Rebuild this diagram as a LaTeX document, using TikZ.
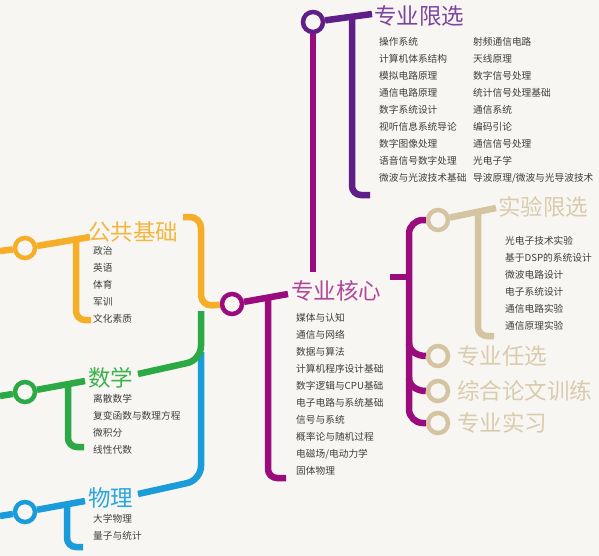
\documentclass[tikz,border=0pt]{standalone}
\usepackage{fontspec}
\setmainfont{Noto Sans CJK SC}
\usepackage{xcolor}
\definecolor{bgpaper}{HTML}{F7F6F2}
\definecolor{pubor}{HTML}{F6AD27}
\definecolor{pubhead}{HTML}{F4B53E}
\definecolor{mathgr}{HTML}{2CA944}
\definecolor{mathhead}{HTML}{3DB24F}
\definecolor{phybl}{HTML}{1A9BDA}
\definecolor{phyhead}{HTML}{2AA5DD}
\definecolor{coremg}{HTML}{9A0C7E}
\definecolor{corehead}{HTML}{B0479A}
\definecolor{specpu}{HTML}{601E88}
\definecolor{spechead}{HTML}{7D45A0}
\definecolor{labtan}{HTML}{D5C4A1}
\definecolor{labhead}{HTML}{DACBAE}
\definecolor{itemgray}{HTML}{3E3E3E}
\tikzset{
  hub/.style={circle,draw=#1,line width=4.5pt,fill=bgpaper,minimum size=20pt,inner sep=0pt},
  track/.style={draw=#1,line width=6.5pt,rounded corners=9pt},
  hdtext/.style={text=#1,font=\fontsize{22.5}{24}\selectfont,inner sep=0pt,anchor=west},
  items/.style={text=itemgray,font=\fontsize{9.7}{17}\selectfont,align=left,inner sep=0pt,anchor=west},
}

\begin{document}
\begin{tikzpicture}[x=1pt,y=-1pt]
  \fill[bgpaper] (0,0) rectangle (599,556);
  \useasboundingbox (0,0) rectangle (599,556);

  % ---- basic courses on the left, feeding the trunk ----
  \node[hub=pubor] (pub) at (25,248) {};
  \node[hub=mathgr] (math) at (25,392) {};
  \node[hub=phybl] (phy) at (25,512) {};
  \node[hub=coremg] (core) at (232,304) {};
  \node[hub=specpu] (spec) at (313,22) {};
  \node[hub=labtan] (lab) at (438,220) {};
  \node[hub=labtan] (opt) at (438,356) {};
  \node[hub=labtan] (thes) at (438,391) {};
  \node[hub=labtan] (prac) at (438,423) {};

  \node[hdtext=pubhead] (pubhd) at (88,232) {公共基础};
  \node[hdtext=mathhead] (mathhd) at (88,378) {数学};
  \node[hdtext=phyhead] (phyhd) at (88,498) {物理};
  \node[hdtext=corehead] (corehd) at (291,291) {专业核心};
  \node[hdtext=spechead] (spechd) at (374,16) {专业限选};
  \node[hdtext=labhead] (labhd) at (498,207) {实验限选};
  \node[hdtext=labhead] (opthd) at (457,356) {专业任选};
  \node[hdtext=labhead] (thesshd) at (457,391) {综合论文训练};
  \node[hdtext=labhead] (practhd) at (457,423) {专业实习};

  \node[items] (publist) at (93,285) {政治\\英语\\体育\\军训\\文化素质};
  \node[items] (mathlist) at (93,424.5) {离散数学\\复变函数与数理方程\\微积分\\线性代数};
  \node[items] (phylist) at (93,527.5) {大学物理\\量子与统计};
  \node[items] (corelist) at (296,394.5) {媒体与认知\\通信与网络\\数据与算法\\计算机程序设计基础\\数字逻辑与CPU基础\\电子电路与系统基础\\信号与系统\\概率论与随机过程\\电磁场/电动力学\\固体物理};
  \node[items] (speclistA) at (379,110) {操作系统\\计算机体系结构\\模拟电路原理\\通信电路原理\\数字系统设计\\视听信息系统导论\\数字图像处理\\语音信号数字处理\\微波与光波技术基础};
  \node[items] (speclistB) at (473,110) {射频通信电路\\天线原理\\数字信号处理\\统计信号处理基础\\通信系统\\编码引论\\通信信号处理\\光电子学\\导波原理/微波与光导波技术};
  \node[items] (lablist) at (505,283.5) {光电子技术实验\\基于DSP的系统设计\\微波电路设计\\电子系统设计\\通信电路实验\\通信原理实验};

  % free ends of the tracks
  \coordinate (pubL) at (0,251);
  \coordinate (mathL) at (0,396);
  \coordinate (phyL) at (0,516);
  \coordinate (brk) at (390,277);
  \coordinate (specdn) at (313,272);

  % ---- T bars under each header ----
  \draw[track=pubor] (pubL) -- (pub);
  \draw[track=pubor] (pub) -- (90,237);
  \draw[track=pubor] (76,237) |- (91,320);
  \draw[track=mathgr] (mathL) -- (math);
  \draw[track=mathgr] (math) -- (85,381);
  \draw[track=mathgr] (68,383) |- (84,447);
  \draw[track=phybl] (phyL) -- (phy);
  \draw[track=phybl] (phy) -- (85,501);
  \draw[track=phybl] (67,503) |- (83,547);
  \draw[track=coremg] (core) -- (288,294);
  \draw[track=coremg] (268,296) |- (286,478);
  \draw[track=specpu] (spec) -- (372,14);
  \draw[track=specpu] (352,16) |- (370,195);
  \draw[track=labtan] (lab) -- (496,208);
  \draw[track=labtan] (478,210) |- (494,336);

  % ---- trunk joining the basics to the core ----
  \draw[track=phybl,rounded corners=14pt] (138,494) -- (201,480) -- (201,352);
  \draw[track=mathgr,rounded corners=14pt] (138,374) -- (201,360) -- (201,311);
  \draw[track=pubor,rounded corners=11pt] (183,217) -- (201,217) -- (201,306) -- (core);

  % ---- core to the upper and right branches ----
  \draw[track=coremg] (spec) -- (specdn);
  \draw[track=coremg,rounded corners=14pt] (lab) -| (409,423) -- (prac);
  \draw[track=coremg] (brk) -- (410,277);
  \draw[track=coremg,rounded corners=0pt] (409,343) to[out=-90,in=180] (opt);
  \draw[track=coremg,rounded corners=0pt] (409,378) to[out=-90,in=180] (thes);
\end{tikzpicture}
\end{document}
